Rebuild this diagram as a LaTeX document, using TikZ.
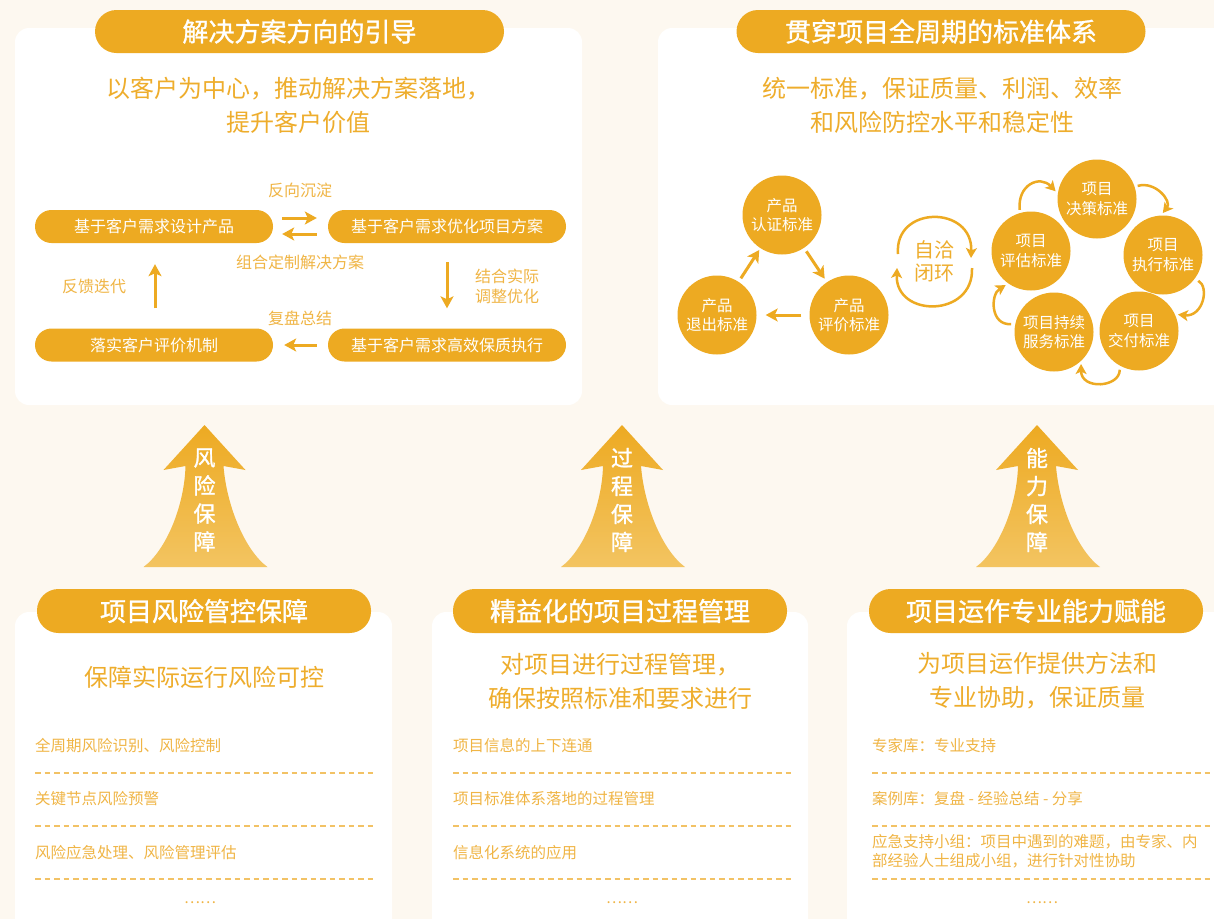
\documentclass[tikz,border=0pt]{standalone}
\usepackage{fontspec}
\setmainfont{Noto Sans CJK SC}
\newfontfamily\cjkb[FakeBold=1.2]{Noto Sans CJK SC}
\usetikzlibrary{arrows.meta,calc}
\definecolor{bgc}{HTML}{FDF8F0}
\definecolor{org}{HTML}{EDAA22}
\definecolor{txt}{HTML}{EEAD2C}
\definecolor{lt}{HTML}{F0B545}
\definecolor{dsh}{HTML}{F2C265}
\definecolor{arrlight}{HTML}{F3C461}
\newcommand\myfs[2]{\fontsize{#1pt}{#2pt}\selectfont}
\newcommand\bigarr[3]{%
  \begin{scope}[shift={(#1,0)}]
    \shade[top color=org, bottom color=arrlight] (0,425) -- (41,470) -- (19,466) .. controls (22,505) and (40,550) .. (63,567) -- (-61,567) .. controls (-38,550) and (-20,505) .. (-19,466) -- (-41,470) -- cycle;
    \node[vtext] (#3) at (0,500) {#2};
  \end{scope}}
\begin{document}
\begin{tikzpicture}[x=1pt,y=-1pt,
  panel/.style={fill=white, rounded corners=14pt},
  pill/.style={fill=org, rounded corners=21.5pt, minimum height=43pt, inner sep=0pt, text=white, font=\cjkb\myfs{26}{30}},
  sub/.style={text=txt, align=center, font=\myfs{24}{34}, inner sep=0pt},
  box/.style={fill=org, rounded corners=16.5pt, minimum width=238pt, minimum height=33pt, inner sep=0pt, text=white, font=\myfs{16}{19}},
  lbl/.style={text=lt, font=\myfs{16}{20}, inner sep=0pt, align=center},
  flow/.style={draw=org, line width=3pt, -{Stealth[length=12pt,width=13pt,inset=3pt]}},
  circ/.style={circle, fill=org, minimum size=79pt, inner sep=0pt, text=white, align=center, font=\myfs{15.5}{19.5}},
  ringarr/.style={draw=org, line width=2.5pt, -{Stealth[length=10pt,width=11pt,inset=2.5pt]}},
  item/.style={text=lt, font=\myfs{15.5}{19}, anchor=west, inner sep=0pt, align=left},
  dline/.style={draw=dsh, line width=1.5pt, dash pattern=on 5.5pt off 4pt},
  vtext/.style={text=white, font=\cjkb\myfs{22}{28}, align=center, inner sep=0pt},
  dots/.style={text=lt, font=\myfs{15}{18}, inner sep=0pt}
]
\fill[bgc] (0,0) rectangle (1214,919);
\useasboundingbox (0,0) rectangle (1214,919);
\clip (0,0) rectangle (1214,919);

% panels
\fill[panel] (15,28) rectangle (582,405);
\fill[panel] (658,28) rectangle (1240,405);
\fill[panel] (15,612) rectangle (392,960);
\fill[panel] (432,612) rectangle (808,960);
\fill[panel] (847,612) rectangle (1240,960);

% ---------- top left ----------
\node[pill, minimum width=409pt] (t1) at (299.5,31.5) {解决方案方向的引导};
\node[sub] (s1) at (298,105) {以客户为中心，推动解决方案落地，\\提升客户价值};

\node[box] (b1) at (154,226.5) {基于客户需求设计产品};
\node[box] (b2) at (447,226.5) {基于客户需求优化项目方案};
\node[box] (b3) at (154,345) {落实客户评价机制};
\node[box] (b4) at (447,345) {基于客户需求高效保质执行};

\draw[flow] ($(b1.east)+(9,-8.5)$) -- ($(b2.west)+(-11,-8.5)$);
\draw[flow] ($(b2.west)+(-11,7.5)$) -- ($(b1.east)+(9,7.5)$);
\draw[flow] ($(b2.south)+(0,19)$) -- ($(b4.north)+(0,-20)$);
\draw[flow] ($(b4.west)+(-11,0)$) -- ($(b3.east)+(11,0)$);
\draw[flow] ($(b3.north)+(1,-20)$) -- ($(b1.south)+(1,21)$);

\node[lbl] (l1) at (300,190) {反向沉淀};
\node[lbl] (l2) at (300,262) {组合定制解决方案};
\node[lbl] (l3) at (300,318) {复盘总结};
\node[lbl] (l4) at (94,286) {反馈迭代};
\node[lbl] (l5) at (507,286) {结合实际\\调整优化};

% ---------- top right ----------
\node[pill, minimum width=409pt] (t2) at (941,31.5) {贯穿项目全周期的标准体系};
\node[sub] (s2) at (942,105) {统一标准，保证质量、利润、效率\\和风险防控水平和稳定性};

\node[circ] (p1) at (782,215) {产品\\认证标准};
\node[circ] (p2) at (849,315) {产品\\评价标准};
\node[circ] (p3) at (717,315) {产品\\退出标准};
\draw[flow, shorten <=4pt, shorten >=2pt] (p3) -- (p1);
\draw[flow, shorten <=4pt, shorten >=4pt] (p1) -- (p2);
\draw[flow, shorten <=8pt, shorten >=9pt] (p2) -- (p3);

\node[text=txt, font=\myfs{20}{23}, align=center, inner sep=0pt] (zq) at (934,261) {自洽\\闭环};
\draw[ringarr] ($(zq)+(-36,-7)$) .. controls +(-4,-49) and +(2,-53) .. ($(zq)+(37,-3)$);
\draw[ringarr] ($(zq)+(38,7)$) .. controls +(2,50) and +(-2,50) .. ($(zq)+(-37,7)$);

\node[circ] (r1) at (1097,199) {项目\\决策标准};
\node[circ] (r2) at (1163,255) {项目\\执行标准};
\node[circ] (r3) at (1139,331) {项目\\交付标准};
\node[circ] (r4) at (1054,332) {项目持续\\服务标准};
\node[circ] (r5) at (1031,251) {项目\\评估标准};
\draw[ringarr, shorten <=3pt, shorten >=3pt] (r5.106) .. controls +(-3,-28) and +(-18,-19) .. (r1.172);
\draw[ringarr, shorten <=3pt, shorten >=3pt] (r1.18) .. controls +(21,-6) and +(11,-14) .. (r2.93);
\draw[ringarr, shorten <=4pt, shorten >=3pt] (r2.-37) .. controls +(15,8) and +(28,3) .. (r3.25);
\draw[ringarr, shorten <=4pt, shorten >=3pt] (r3.241) .. controls +(0,22) and +(0,29) .. (r4.313);
\draw[ringarr, shorten <=4pt, shorten >=3pt] (r4.168) .. controls +(-25,2) and +(-18,11) .. (r5.235);

% ---------- big arrows ----------
\bigarr{204.5}{风\\险\\保\\障}{a1}
\bigarr{622}{过\\程\\保\\障}{a2}
\bigarr{1037}{能\\力\\保\\障}{a3}

% ---------- bottom left ----------
\node[pill, minimum width=334pt, minimum height=44pt] (t3) at (204,611) {项目风险管控保障};
\node[sub] (s3) at (204,677) {保障实际运行风险可控};
\node[item] (i31) at (35,746) {全周期风险识别、风险控制};
\node[item] (i32) at (35,799) {关键节点风险预警};
\node[item] (i33) at (35,853) {风险应急处理、风险管理评估};
\draw[dline] (35,773) -- (376,773);
\draw[dline] (35,826) -- (376,826);
\draw[dline] (35,879) -- (376,879);
\node[dots] (d3) at (200,903) {……};

% ---------- bottom middle ----------
\node[pill, minimum width=334pt, minimum height=44pt] (t4) at (620,611) {精益化的项目过程管理};
\node[sub] (s4) at (620,681) {对项目进行过程管理，\\确保按照标准和要求进行};
\node[item] (i41) at (453,746) {项目信息的上下连通};
\node[item] (i42) at (453,799) {项目标准体系落地的过程管理};
\node[item] (i43) at (453,853) {信息化系统的应用};
\draw[dline] (453,773) -- (793,773);
\draw[dline] (453,826) -- (793,826);
\draw[dline] (453,879) -- (793,879);
\node[dots] (d4) at (622,903) {……};

% ---------- bottom right ----------
\node[pill, minimum width=334pt, minimum height=44pt] (t5) at (1036,611) {项目运作专业能力赋能};
\node[sub] (s5) at (1037,681) {为项目运作提供方法和\\专业协助，保证质量};
\node[item] (i51) at (872,746) {专家库：专业支持};
\node[item] (i52) at (872,799) {案例库：复盘 - 经验总结 - 分享};
\node[item] (i53) at (872,851) {应急支持小组：项目中遇到的难题，由专家、内\\部经验人士组成小组，进行针对性协助};
\draw[dline] (872,773) -- (1214,773);
\draw[dline] (872,826) -- (1214,826);
\draw[dline] (872,879) -- (1214,879);
\node[dots] (d5) at (1042,903) {……};
\end{tikzpicture}
\end{document}
